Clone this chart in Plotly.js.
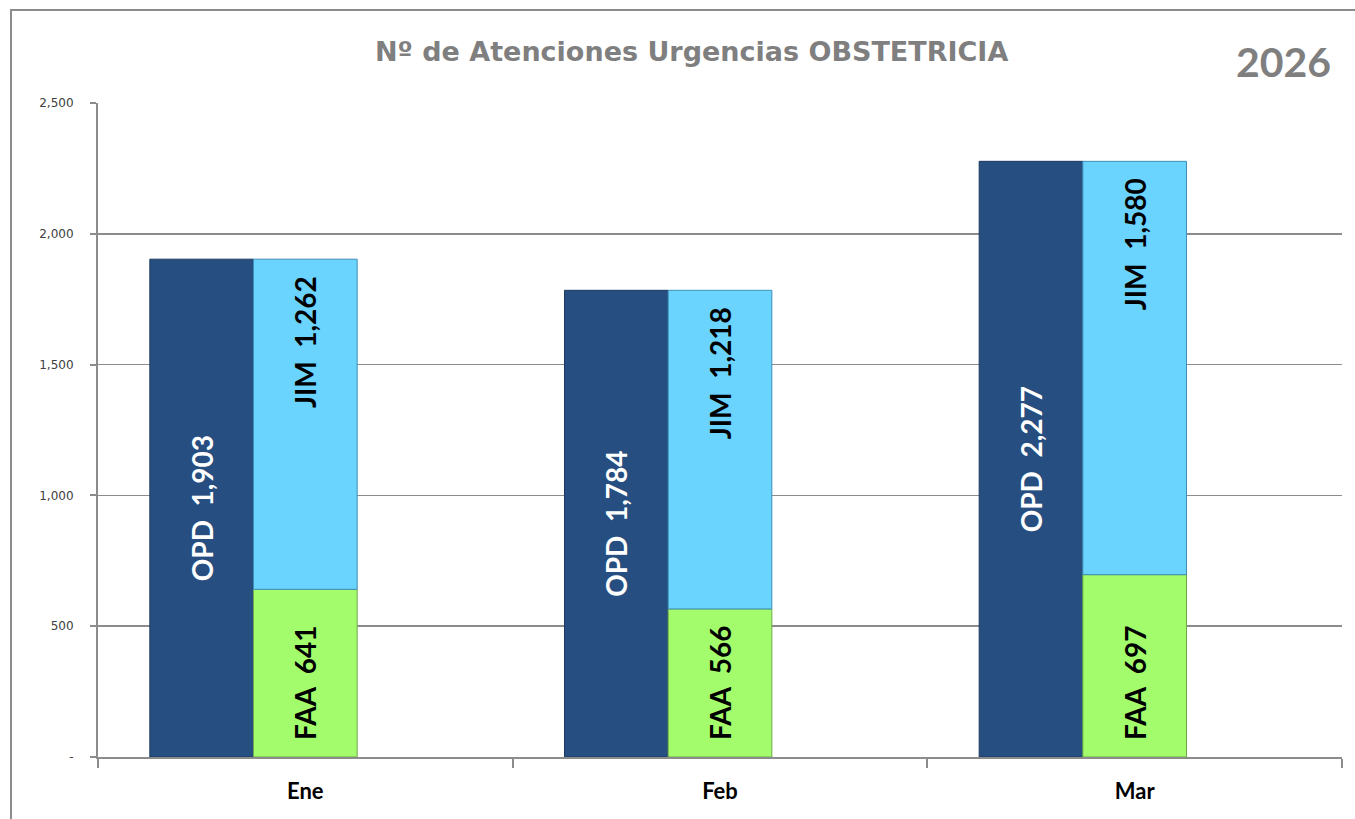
<!DOCTYPE html>
<html>
<head>
<meta charset="utf-8">
<script src="https://cdn.plot.ly/plotly-3.0.1.min.js"></script>
<style>html,body{margin:0;padding:0;background:#fff;}#chart{width:1355px;height:819px;}</style>
</head>
<body>
<div id="chart"></div>
<script>
var months = ['Ene', 'Feb', 'Mar'];
var opd = [1903, 1784, 2277];
var faa = [641, 566, 697];
var jim = [1262, 1218, 1580];
var yTickVals = [0, 500, 1000, 1500, 2000, 2500];
var yTickText = ['-', '500', '1,000', '1,500', '2,000', '2,500'];

function fmt(v) { return v.toLocaleString('en-US'); }
var GAP = '\u00a0\u00a0';
var PAD = '\u2002';

var labelFont = {family: 'Lato, "DejaVu Sans", sans-serif', size: 28, weight: 'bold'};

var traces = [
  {
    type: 'bar', name: 'OPD', x: months, y: opd,
    offset: -0.375, width: 0.25,
    marker: {color: '#264E80', line: {color: '#1C3A60', width: 1}},
    text: opd.map(function (v) { return 'OPD' + GAP + fmt(v); }),
    textposition: 'inside', insidetextanchor: 'middle', textangle: -90,
    constraintext: 'none',
    textfont: Object.assign({color: '#ffffff'}, labelFont),
    hoverinfo: 'skip'
  },
  {
    type: 'bar', name: 'FAA', x: months, y: faa,
    offset: -0.125, width: 0.25,
    marker: {color: '#A2FC6C', line: {color: '#6FA848', width: 1}},
    text: faa.map(function (v) { return PAD + 'FAA' + GAP + fmt(v); }),
    textposition: 'inside', insidetextanchor: 'start', textangle: -90,
    constraintext: 'none',
    textfont: Object.assign({color: '#000000'}, labelFont),
    hoverinfo: 'skip'
  },
  {
    type: 'bar', name: 'JIM', x: months, y: jim, base: faa,
    offset: -0.125, width: 0.25,
    marker: {color: '#6AD3FE', line: {color: '#3E8FB8', width: 1}},
    text: jim.map(function (v) { return 'JIM' + GAP + fmt(v) + PAD; }),
    textposition: 'inside', insidetextanchor: 'end', textangle: -90,
    constraintext: 'none',
    textfont: Object.assign({color: '#000000'}, labelFont),
    hoverinfo: 'skip'
  }
];

var layout = {
  width: 1355, height: 819,
  margin: {l: 98, r: 13, t: 103, b: 62},
  paper_bgcolor: '#ffffff', plot_bgcolor: '#ffffff',
  barmode: 'overlay',
  showlegend: false,
  hovermode: false,
  xaxis: {
    type: 'category',
    showgrid: false,
    showline: true, linecolor: '#8C8C8C', linewidth: 2,
    ticks: 'outside', tickson: 'boundaries', ticklen: 9, tickcolor: '#8C8C8C', tickwidth: 2,
    ticklabelstandoff: 14,
    tickfont: {family: 'Lato, "DejaVu Sans", sans-serif', size: 22, color: '#000000', weight: 'bold'},
    fixedrange: true
  },
  yaxis: {
    range: [0, 2500],
    tickvals: yTickVals, ticktext: yTickText,
    showgrid: true, gridcolor: '#8C8C8C', gridwidth: 1.5,
    showline: true, linecolor: '#8C8C8C', linewidth: 2,
    ticks: 'outside', ticklen: 6, tickcolor: '#8C8C8C', tickwidth: 2,
    ticklabelstandoff: 14,
    tickfont: {family: '"DejaVu Sans", sans-serif', size: 12, color: '#404040'},
    zeroline: false,
    fixedrange: true
  },
  annotations: [
    {
      xref: 'paper', yref: 'paper', x: (691 - 98) / 1244, y: (757 - 52) / 654,
      xanchor: 'center', yanchor: 'middle', showarrow: false,
      text: 'Nº de Atenciones Urgencias OBSTETRICIA',
      font: {family: '"DejaVu Sans", sans-serif', size: 27, color: '#7F7F7F', weight: 'bold'}
    },
    {
      xref: 'paper', yref: 'paper', x: (1333 - 98) / 1244, y: (757 - 62) / 654,
      xanchor: 'right', yanchor: 'middle', showarrow: false,
      text: '2026',
      font: {family: 'Lato, "DejaVu Sans", sans-serif', size: 41, color: '#7F7F7F', weight: 'bold'}
    }
  ],
  shapes: [
    {
      type: 'rect', xref: 'paper', yref: 'paper',
      x0: (11 - 98) / 1244, x1: (1360 - 98) / 1244,
      y0: (757 - 830) / 654, y1: (757 - 10) / 654,
      line: {color: '#8C8C8C', width: 2}, fillcolor: 'rgba(0,0,0,0)', layer: 'below'
    }
  ]
};

Plotly.newPlot('chart', traces, layout, {displayModeBar: false, staticPlot: true});
</script>
</body>
</html>
